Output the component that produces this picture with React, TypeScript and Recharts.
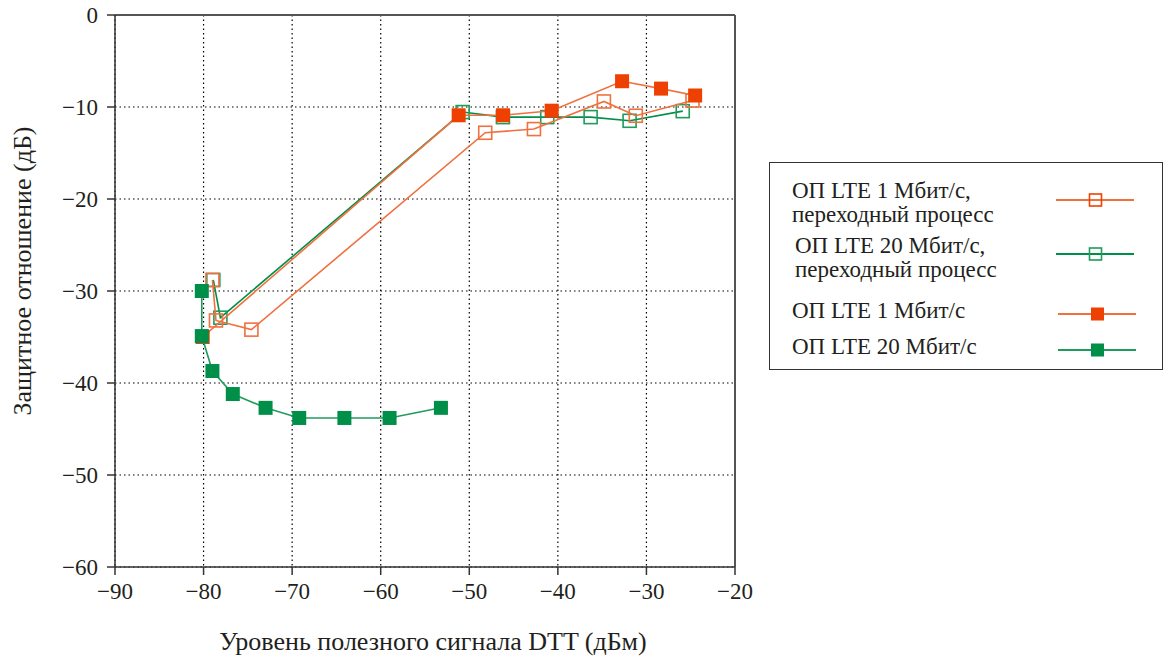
import {
  CartesianGrid,
  Label,
  ReferenceLine,
  Scatter,
  ScatterChart,
  XAxis,
  YAxis,
} from "recharts";

type Pt = { x: number; y: number };

const X_TICKS = [-90, -80, -70, -60, -50, -40, -30, -20];
const Y_TICKS = [0, -10, -20, -30, -40, -50, -60];

// ОП LTE 1 Мбит/с, переходный процесс
const lte1Transient: Pt[] = [
  { x: -79.0, y: -28.8 },
  { x: -78.6, y: -33.2 },
  { x: -74.6, y: -34.2 },
  { x: -48.2, y: -12.8 },
  { x: -42.7, y: -12.4 },
  { x: -34.8, y: -9.4 },
  { x: -31.2, y: -10.95 },
  { x: -24.8, y: -9.3 },
];

// ОП LTE 20 Мбит/с, переходный процесс
const lte20Transient: Pt[] = [
  { x: -78.9, y: -28.8 },
  { x: -78.1, y: -32.9 },
  { x: -50.75, y: -10.55 },
  { x: -46.2, y: -11.1 },
  { x: -41.2, y: -11.1 },
  { x: -36.3, y: -11.1 },
  { x: -31.9, y: -11.5 },
  { x: -25.9, y: -10.45 },
];

// ОП LTE 1 Мбит/с
const lte1: Pt[] = [
  { x: -80.1, y: -35.0 },
  { x: -51.2, y: -10.9 },
  { x: -46.2, y: -10.9 },
  { x: -40.7, y: -10.4 },
  { x: -32.75, y: -7.2 },
  { x: -28.35, y: -8.0 },
  { x: -24.5, y: -8.75 },
];

// ОП LTE 20 Мбит/с
const lte20: Pt[] = [
  { x: -80.2, y: -30.0 },
  { x: -80.2, y: -34.9 },
  { x: -79.0, y: -38.7 },
  { x: -76.7, y: -41.2 },
  { x: -73.0, y: -42.7 },
  { x: -69.2, y: -43.8 },
  { x: -64.1, y: -43.8 },
  { x: -59.0, y: -43.8 },
  { x: -53.2, y: -42.7 },
];

const ORANGE_LINE = "#f0703f";
const ORANGE = "#ee4000";
const GREEN_LINE = "#1f9c5c";
const GREEN = "#008f48";
const FONT = "'Liberation Serif', 'Times New Roman', serif";
const TEXT = "#231f20";

const fmt = (v: number) => (v < 0 ? `\u2212${Math.abs(v)}` : `${v}`);

function square(color: string, filled: boolean) {
  return (props: any) => {
    const { cx, cy } = props;
    if (cx == null || cy == null) return <g />;
    const s = filled ? 14 : 13;
    return (
      <rect
        x={cx - s / 2}
        y={cy - s / 2}
        width={s}
        height={s}
        fill={filled ? color : "none"}
        stroke={filled ? "none" : color}
        strokeWidth={1.6}
      />
    );
  };
}

const LEGEND = [
  { lines: ["ОП LTE 1 Мбит/с,", "переходный процесс"], line: ORANGE_LINE, mark: ORANGE, filled: false },
  { lines: ["ОП LTE 20 Мбит/с,", "переходный процесс"], line: GREEN, mark: GREEN_LINE, filled: false },
  { lines: ["ОП LTE 1 Мбит/с"], line: ORANGE_LINE, mark: ORANGE, filled: true },
  { lines: ["ОП LTE 20 Мбит/с"], line: GREEN_LINE, mark: GREEN, filled: true },
];

function LegendBox() {
  const textTops = [15.5, 70.5, 135.5, 171.5];
  const textLefts = [22, 25, 22, 22];
  const markY = [37, 90.5, 150.5, 186.5];
  const markX = [286, 286, 288, 288];
  return (
    <div
      style={{
        position: "absolute",
        left: 769,
        top: 162,
        width: 394,
        height: 208,
        border: "1.5px solid #333",
        boxSizing: "border-box",
        fontFamily: FONT,
        fontSize: 23,
        color: TEXT,
      }}
    >
      {LEGEND.map((item, i) => (
        <div
          key={i}
          style={{ position: "absolute", left: textLefts[i], top: textTops[i], lineHeight: "24px", whiteSpace: "nowrap" }}
        >
          {item.lines.map((l) => (
            <div key={l}>{l}</div>
          ))}
        </div>
      ))}
      {LEGEND.map((item, i) => (
        <svg
          key={`m${i}`}
          width={80}
          height={16}
          style={{ position: "absolute", left: markX[i], top: markY[i] - 8 }}
        >
          <line x1={0} y1={8} x2={78} y2={8} stroke={item.line} strokeWidth={1.8} />
          <rect
            x={item.filled ? 33 : 33.5}
            y={item.filled ? 1.5 : 2}
            width={item.filled ? 13 : 12}
            height={item.filled ? 13 : 12}
            fill={item.filled ? item.mark : "none"}
            stroke={item.filled ? "none" : item.mark}
            strokeWidth={1.6}
          />
        </svg>
      ))}
    </div>
  );
}

export default function App() {
  return (
    <div style={{ position: "absolute", left: 0, top: 0, width: 1169, height: 664, background: "#fff" }}>
      <ScatterChart
        width={1169}
        height={664}
        margin={{ top: 15, right: 434, bottom: 0, left: 0 }}
      >
        <CartesianGrid stroke="#000" strokeDasharray="1.5 3" strokeWidth={1.2} />
        <XAxis
          type="number"
          dataKey="x"
          domain={[-90, -20]}
          ticks={X_TICKS}
          allowDataOverflow
          height={97}
          tickSize={8}
          tickMargin={8}
          tickFormatter={fmt}
          tick={{ fontFamily: FONT, fontSize: 23, fill: TEXT }}
          stroke="#333"
          strokeWidth={1.5}
        >
          <Label
            value="Уровень полезного сигнала DTT (дБм)"
            position="insideBottom"
            offset={14}
            dx={8}
            style={{ fontFamily: FONT, fontSize: 26, fill: TEXT }}
          />
        </XAxis>
        <YAxis
          type="number"
          dataKey="y"
          domain={[-60, 0]}
          ticks={Y_TICKS}
          allowDataOverflow
          width={115}
          tickSize={8}
          tickMargin={9}
          tickFormatter={fmt}
          tick={{ fontFamily: FONT, fontSize: 23, fill: TEXT }}
          stroke="#333"
          strokeWidth={1.5}
        >
          <Label
            value="Защитное отношение (дБ)"
            angle={-90}
            position="insideLeft"
            offset={22}
            dy={-20}
            style={{ fontFamily: FONT, fontSize: 26, fill: TEXT, textAnchor: "middle" }}
          />
        </YAxis>
        <ReferenceLine y={0} stroke="#555" strokeWidth={2} />
        <ReferenceLine x={-20} stroke="#555" strokeWidth={2} />
        <Scatter
          data={lte20Transient}
          line={{ stroke: GREEN, strokeWidth: 1.6 }}
          shape={square(GREEN_LINE, false)}
          isAnimationActive={false}
        />
        <Scatter
          data={lte1Transient}
          line={{ stroke: ORANGE_LINE, strokeWidth: 1.6 }}
          shape={square(ORANGE_LINE, false)}
          isAnimationActive={false}
        />
        <Scatter
          data={lte1}
          line={{ stroke: ORANGE_LINE, strokeWidth: 1.6 }}
          shape={square(ORANGE, true)}
          isAnimationActive={false}
        />
        <Scatter
          data={lte20}
          line={{ stroke: GREEN_LINE, strokeWidth: 1.6 }}
          shape={square(GREEN, true)}
          isAnimationActive={false}
        />
      </ScatterChart>
      <LegendBox />
    </div>
  );
}
